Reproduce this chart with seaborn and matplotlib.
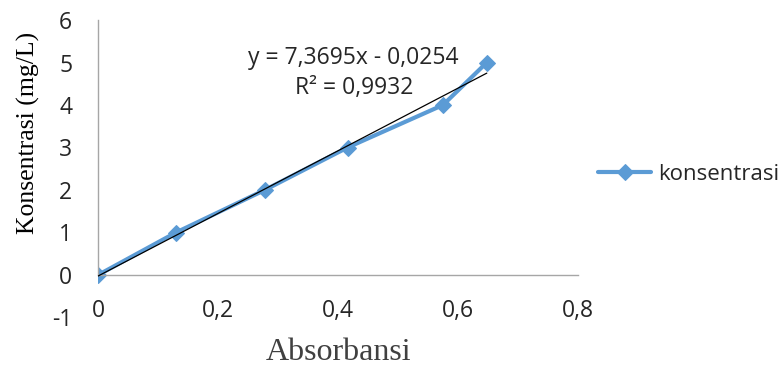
import numpy as np
import pandas as pd
import matplotlib
matplotlib.use("Agg")
import matplotlib.pyplot as plt
import seaborn as sns

# data
absorbansi = [0.0, 0.130, 0.278, 0.416, 0.575, 0.648]
konsentrasi = [0, 1, 2, 3, 4, 5]
slope, intercept = 7.3695, -0.0254
r2 = 0.9932
x_ticks = [0, 0.2, 0.4, 0.6, 0.8]
y_ticks = [-1, 0, 1, 2, 3, 4, 5, 6]

sns.set_style("white")
plt.rcParams['font.family'] = ['Open Sans', 'DejaVu Sans']

df = pd.DataFrame({"Absorbansi": absorbansi, "konsentrasi": konsentrasi, "series": "konsentrasi"})

fig = plt.figure(figsize=(7.84, 3.74), dpi=100)
ax = fig.add_axes([98 / 784, 1 - 317.5 / 374, 480 / 784, 297.5 / 374])

blue = "#5B9BD5"
sns.lineplot(data=df, x="Absorbansi", y="konsentrasi", hue="series", palette=[blue],
             marker="D", markersize=8, markeredgecolor=blue, linewidth=3, ax=ax)

# linear trendline
xt = np.array([min(absorbansi), max(absorbansi)])
ax.plot(xt, slope * xt + intercept, color="black", linewidth=0.9, zorder=3)

ax.set_xlim(0, 0.8)
ax.set_ylim(-1, 6)
ax.set_xticks(x_ticks)
ax.set_xticklabels([("%g" % v).replace(".", ",") for v in x_ticks])
ax.set_yticks(y_ticks)
ax.set_yticklabels([str(v) for v in y_ticks])

for s in ["top", "right"]:
    ax.spines[s].set_visible(False)
ax.spines["bottom"].set_position(("data", 0))
ax.spines["left"].set_bounds(0, 6)
for s in ["left", "bottom"]:
    ax.spines[s].set_color("#a6a6a6")
    ax.spines[s].set_linewidth(1)

ax.tick_params(axis="y", direction="out", length=6.5, color="#a6a6a6", labelsize=16.5, pad=12,
               labelcolor="#262626")
ax.tick_params(axis="x", direction="out", length=6, color="#a6a6a6", labelsize=16.5, pad=11.5,
               labelcolor="#262626")
ax.get_yticklines()[0].set_visible(False)
ax.get_yticklines()[1].set_visible(False)

ax.set_xlabel("Absorbansi", family="Liberation Serif", fontsize=23, color="#404040")
ax.xaxis.set_label_coords(0.502, -0.07)
ax.set_ylabel("Konsentrasi (mg/L)", family="Liberation Serif", fontsize=18.5, color="black")
ax.yaxis.set_label_coords(-0.12, 0.622)

ax.text(0.426, 5.1, "y = 7,3695x - 0,0254", fontsize=16.5, ha="center", va="center")
ax.text(0.427, 4.4, "R² = 0,9932", fontsize=16.5, ha="center", va="center")

leg = ax.legend(loc="center left", bbox_to_anchor=(1.042, 0.48), frameon=False,
                fontsize=16, handlelength=2.4, handletextpad=0.3,
                borderaxespad=0, borderpad=0)

fig.savefig("out.png", dpi=100)
